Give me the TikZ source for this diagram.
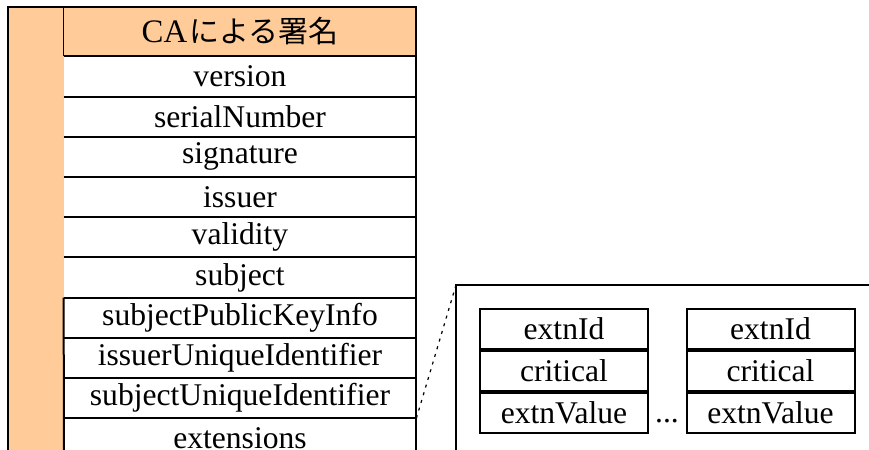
\documentclass[tikz,border=0pt]{standalone}
\usepackage{fontspec}
\setmainfont{Liberation Serif}
\newfontfamily\jpfont{Noto Sans CJK JP}
\usetikzlibrary{positioning}
\definecolor{peach}{RGB}{255,204,153}
\begin{document}
\begin{tikzpicture}[x=0.5pt,y=-0.5pt,
  cell/.style={inner sep=0pt, minimum width=176pt, minimum height=19.7pt, fill=white,
               font=\fontsize{15.8}{18}\selectfont},
  extcell/.style={draw, line width=1pt, inner sep=0pt, minimum width=84pt, minimum height=20pt,
               font=\fontsize{15.8}{18}\selectfont},
  rule/.style={line width=1pt},
  thinrule/.style={line width=0.5pt},
  link/.style={line width=0.6pt, dash pattern=on 1.5pt off 2.5pt}]
\useasboundingbox (0,0) rectangle (869,450);
% orange column
\fill[peach] (8,7) rectangle (64,450);
% header
\node[cell, fill=peach, minimum height=24.5pt] (hdr) at (240,31.5)
  {{\fontsize{16.4}{18}\selectfont CA}\hspace{1pt}{\jpfont\fontsize{15}{18}\selectfont による署名}};
\node[cell, below=0pt of hdr] (version) {version};
\node[cell, below=0pt of version] (serial) {serialNumber};
\node[cell, below=0pt of serial] (sig) {signature};
\node[cell, below=0pt of sig] (issuer) {issuer};
\node[cell, below=0pt of issuer] (validity) {validity};
\node[cell, below=0pt of validity] (subject) {subject};
\node[cell, below=0pt of subject] (spki) {subjectPublicKeyInfo};
\node[cell, below=0pt of spki] (iui) {issuerUniqueIdentifier};
\node[cell, below=0pt of iui] (sui) {subjectUniqueIdentifier};
\node[cell, below=0pt of sui] (ext) {extensions};
% header left border
\draw[thinrule] (hdr.north west) -- (hdr.south west);
% row separators
\foreach \r in {hdr,version,serial,sig,issuer,validity,subject,spki,iui,sui}
  \draw[rule] (\r.south west) -- (\r.south east);
% left border of lower rows
\draw[rule] (spki.north west) -- (64,450);
% outer frame
\draw[rule] (8,450) -- (8,7) -- (416,7) -- (416,450);
% extension frame
\coordinate (frameTL) at (456,285);
\draw[rule] (456,450) -- (frameTL) -- (869,285);
% link
\draw[link] (sui.south east) -- (frameTL);
% extension boxes
\node[extcell] (id1) at (564,329) {extnId};
\node[extcell, below=0pt of id1] (crit1) {critical};
\node[extcell, below=0pt of crit1] (val1) {extnValue};
\node[extcell] (id2) at (770.5,329) {extnId};
\node[extcell, below=0pt of id2] (crit2) {critical};
\node[extcell, below=0pt of crit2] (val2) {extnValue};
\node[font=\fontsize{15.8}{18}\selectfont, inner sep=0pt, anchor=base] (dots) at (667,422) {...};
\end{tikzpicture}
\end{document}
